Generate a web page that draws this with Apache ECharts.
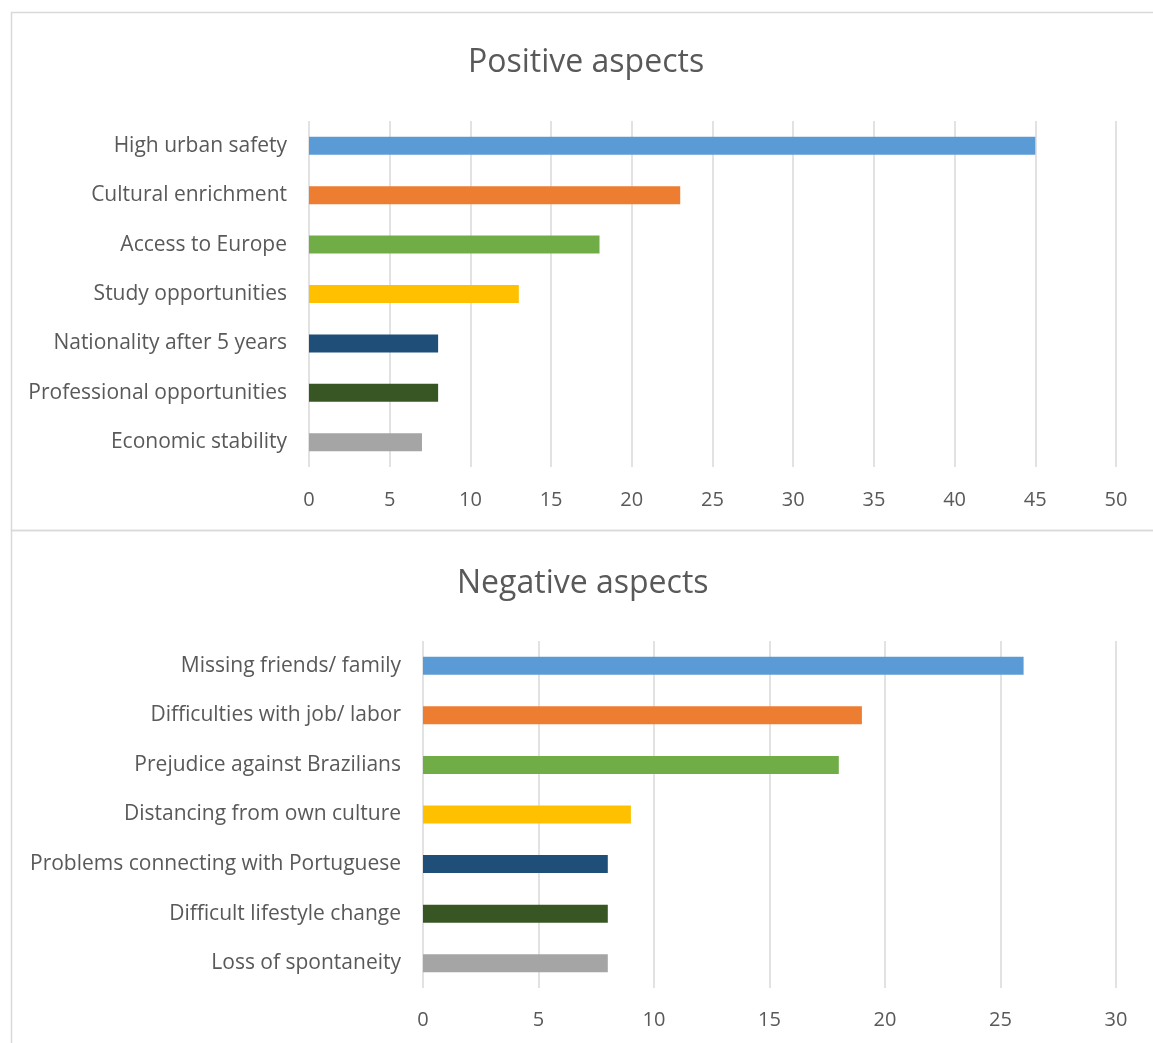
<!DOCTYPE html>
<html>
<head>
<meta charset="utf-8">
<script src="https://cdn.jsdelivr.net/npm/echarts@6/dist/echarts.min.js"></script>
<style>
  html, body { margin: 0; padding: 0; background: #fff; }
  #chart { width: 1153px; height: 1043px; }
</style>
</head>
<body>
<div id="chart"></div>
<script>
// Positive aspects (top panel)
const positiveLabels = [
  'High urban safety',
  'Cultural enrichment',
  'Access to Europe',
  'Study opportunities',
  'Nationality after 5 years',
  'Professional opportunities',
  'Economic stability'
];
const positiveValues = [45, 23, 18, 13, 8, 8, 7];

// Negative aspects (bottom panel)
const negativeLabels = [
  'Missing friends/ family',
  'Difficulties with job/ labor',
  'Prejudice against Brazilians',
  'Distancing from own culture',
  'Problems connecting with Portuguese',
  'Difficult lifestyle change',
  'Loss of spontaneity'
];
const negativeValues = [26, 19, 18, 9, 8, 8, 8];

const barColors = ['#5B9BD5', '#ED7D31', '#70AD47', '#FFC000', '#1F4E79', '#375623', '#A5A5A5'];

const FONT = '"Open Sans", Lato, sans-serif';
const TEXT = '#595959';
const GRID_LINE = '#D9D9D9';

function coloredData(values) {
  return values.map((v, i) => ({ value: v, itemStyle: { color: barColors[i] } }));
}

const chart = echarts.init(document.getElementById('chart'), null, { renderer: 'canvas' });

const titleStyle = { fontFamily: FONT, fontSize: 32, fontWeight: 'normal', color: TEXT };

chart.setOption({
  backgroundColor: '#fff',
  animation: false,
  title: [
    { text: 'Positive aspects', left: 463, top: 42, textStyle: titleStyle },
    { text: 'Negative aspects', left: 452, top: 563, textStyle: titleStyle }
  ],
  graphic: [
    {
      type: 'rect', shape: { x: 11.5, y: 12.5, width: 1160, height: 518 },
      style: { fill: 'none', stroke: GRID_LINE, lineWidth: 1.5 }, z: 0
    },
    {
      type: 'rect', shape: { x: 11.5, y: 530.5, width: 1160, height: 540 },
      style: { fill: 'none', stroke: GRID_LINE, lineWidth: 1.5 }, z: 0
    }
  ],
  grid: [
    { left: 309, width: 807, top: 121, height: 346 },
    { left: 423, width: 693, top: 641, height: 347 }
  ],
  xAxis: [
    {
      gridIndex: 0, type: 'value', min: 0, max: 50, interval: 5,
      axisLine: { show: false }, axisTick: { show: false },
      axisLabel: { color: TEXT, fontFamily: FONT, fontSize: 20, margin: 23 },
      splitLine: { lineStyle: { color: GRID_LINE, width: 1.5 } }
    },
    {
      gridIndex: 1, type: 'value', min: 0, max: 30, interval: 5,
      axisLine: { show: false }, axisTick: { show: false },
      axisLabel: { color: TEXT, fontFamily: FONT, fontSize: 20, margin: 22 },
      splitLine: { lineStyle: { color: GRID_LINE, width: 1.5 } }
    }
  ],
  yAxis: [
    {
      gridIndex: 0, type: 'category', data: positiveLabels, inverse: true,
      axisLine: { show: false }, axisTick: { show: false },
      axisLabel: { color: TEXT, fontFamily: FONT, fontSize: 21, margin: 22, padding: [8, 0, 0, 0] }
    },
    {
      gridIndex: 1, type: 'category', data: negativeLabels, inverse: true,
      axisLine: { show: false }, axisTick: { show: false },
      axisLabel: { color: TEXT, fontFamily: FONT, fontSize: 21, margin: 22, padding: [8, 0, 0, 0] }
    }
  ],
  series: [
    {
      type: 'bar', xAxisIndex: 0, yAxisIndex: 0,
      data: coloredData(positiveValues), barWidth: 18
    },
    {
      type: 'bar', xAxisIndex: 1, yAxisIndex: 1,
      data: coloredData(negativeValues), barWidth: 18
    }
  ]
});
</script>
</body>
</html>
